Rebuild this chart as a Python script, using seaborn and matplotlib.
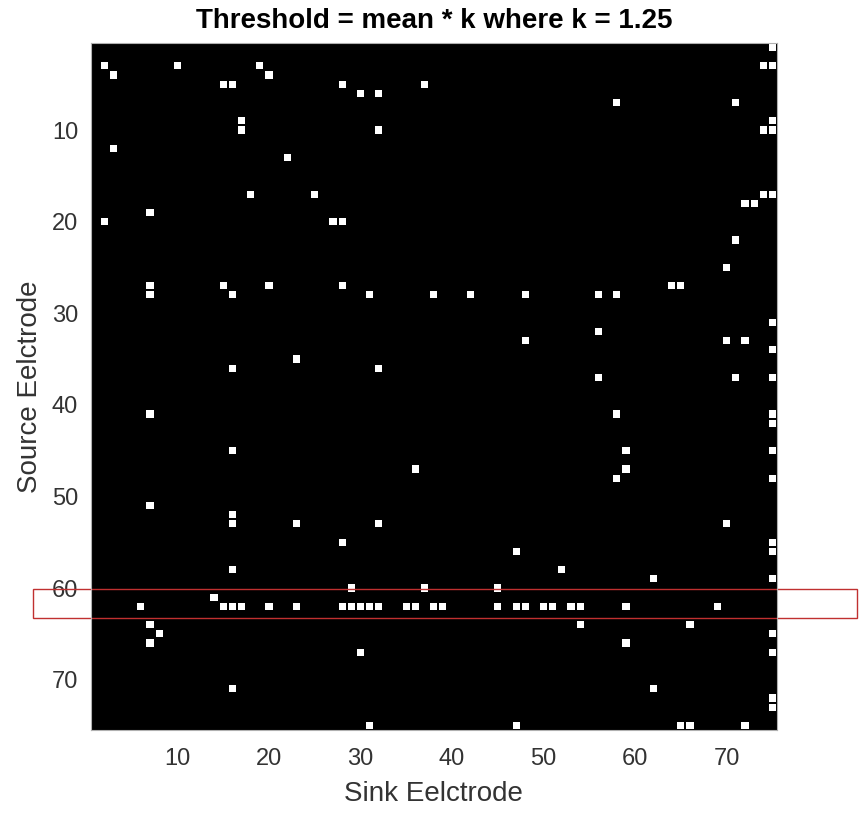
import numpy as np
import matplotlib
matplotlib.use("Agg")
import matplotlib.pyplot as plt
import seaborn as sns
from matplotlib.colors import ListedColormap
from matplotlib.patches import Rectangle
from matplotlib.transforms import blended_transform_factory

# 75 x 75 thresholded connectivity matrix, white cell = connection above threshold
n_electrodes = 75

# (source electrode, sink electrode) pairs of the white cells, 1-based
source_electrode = [
    1,
    3, 3, 3, 3, 3,
    4, 4,
    5, 5, 5, 5,
    6, 6,
    7, 7,
    9, 9,
    10, 10, 10, 10,
    12, 13,
    17, 17, 17, 17,
    18, 18,
    19,
    20, 20, 20,
    22, 25,
    27, 27, 27, 27, 27, 27,
    28, 28, 28, 28, 28, 28, 28, 28,
    31, 32,
    33, 33, 33,
    34, 35,
    36, 36,
    37, 37, 37,
    41, 41, 41,
    42,
    45, 45, 45,
    47, 47,
    48, 48,
    51, 52,
    53, 53, 53, 53,
    55, 55,
    56, 56,
    58, 58,
    59, 59,
    60, 60, 60,
    61,
    62, 62, 62, 62, 62, 62, 62, 62, 62, 62, 62, 62,
    62, 62, 62, 62, 62, 62, 62, 62, 62, 62, 62, 62,
    64, 64, 64,
    65, 65,
    66, 66,
    67, 67,
    71, 71,
    72, 73,
    75, 75, 75, 75, 75,
]
sink_electrode = [
    75,
    2, 10, 19, 74, 75,
    3, 20,
    15, 16, 28, 37,
    30, 32,
    58, 71,
    17, 75,
    17, 32, 74, 75,
    3, 22,
    18, 25, 74, 75,
    72, 73,
    7,
    2, 27, 28,
    71, 70,
    7, 15, 20, 28, 64, 65,
    7, 16, 31, 38, 42, 48, 56, 58,
    75, 56,
    48, 70, 72,
    75, 23,
    16, 32,
    56, 71, 75,
    7, 58, 75,
    75,
    16, 59, 75,
    36, 59,
    58, 75,
    7, 16,
    16, 23, 32, 70,
    28, 75,
    47, 75,
    16, 52,
    62, 75,
    29, 37, 45,
    14,
    6, 15, 16, 17, 20, 23, 28, 29, 30, 31, 32, 35,
    36, 38, 39, 45, 47, 48, 50, 51, 53, 54, 59, 69,
    7, 54, 66,
    8, 75,
    7, 59,
    30, 75,
    16, 62,
    75, 75,
    31, 47, 65, 66, 72,
]

tick_values = [10, 20, 30, 40, 50, 60, 70]

# red box drawn over the figure around source electrodes ~61-62
box_source_span = (60.15, 63.25)

mat = np.zeros((n_electrodes, n_electrodes))
for s, k in zip(source_electrode, sink_electrode):
    mat[s - 1, k - 1] = 1

sns.set_style("white")
plt.rcParams["font.family"] = ["Liberation Sans", "DejaVu Sans"]

fig = plt.figure(figsize=(8.59, 8.17), dpi=100)
ax = fig.add_axes([90.5 / 859, 87 / 817, 686.5 / 859, 687 / 817])

sns.heatmap(mat, ax=ax, cmap=ListedColormap(["black", "white"]), vmin=0, vmax=1,
            cbar=False, linewidths=1.4, linecolor="black",
            xticklabels=False, yticklabels=False)

ax.set_xticks(np.array(tick_values) - 0.5)
ax.set_xticklabels(tick_values, rotation=0)
ax.set_yticks(np.array(tick_values) - 0.5)
ax.set_yticklabels(tick_values, rotation=0)
ax.tick_params(length=0, labelsize=17, colors="#333333")
ax.tick_params(axis="x", pad=13)
ax.tick_params(axis="y", pad=9)

for sp in ax.spines.values():
    sp.set_visible(True)
    sp.set_color("#b0b0b0")
    sp.set_linewidth(0.8)

ax.set_xlabel("Sink Eelctrode", fontsize=20, color="#333333", labelpad=8)
ax.set_ylabel("Source Eelctrode", fontsize=20, color="#333333", labelpad=6)
ax.set_title("Threshold = mean * k where k = 1.25", fontsize=20, fontweight="bold",
             color="black", pad=11)

# annotation box, spans almost the whole figure width
trans = blended_transform_factory(fig.transFigure, ax.transData)
y0 = box_source_span[0] - 0.5
y1 = box_source_span[1] - 0.5
ax.add_patch(Rectangle((33 / 859, y0), (857 - 33) / 859, y1 - y0, transform=trans,
                       fill=False, edgecolor="#c03030", lw=1.0, clip_on=False))

fig.savefig("out.png", dpi=100)
